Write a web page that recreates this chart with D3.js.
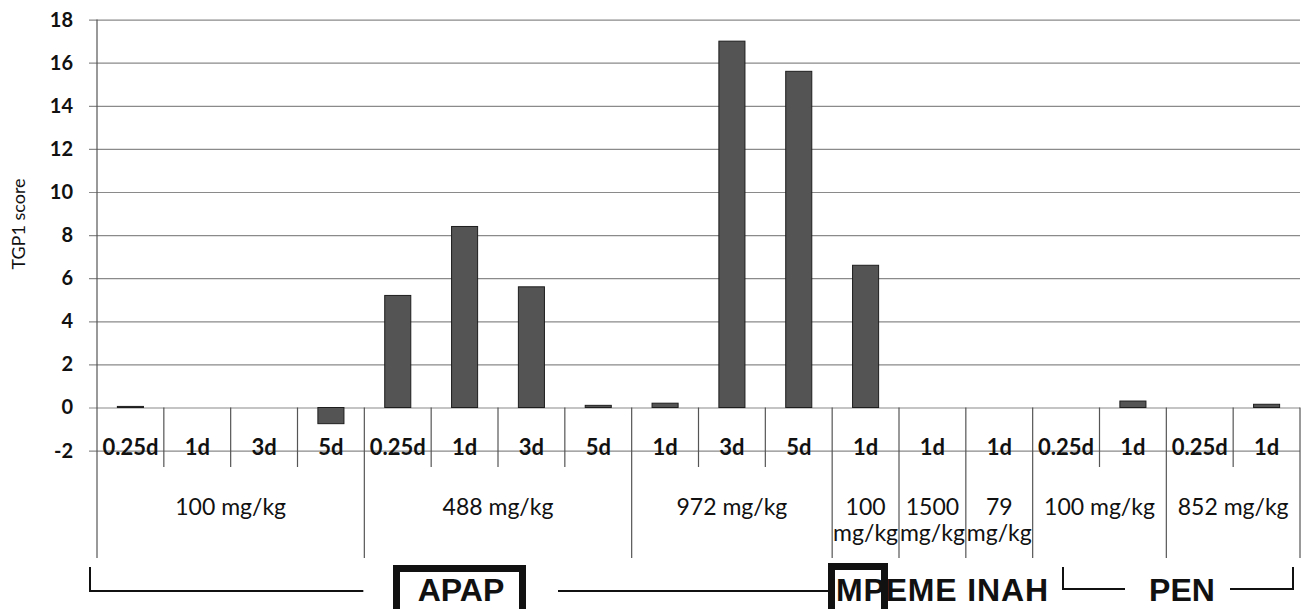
<!DOCTYPE html>
<html>
<head>
<meta charset="utf-8">
<script src="https://cdn.jsdelivr.net/npm/d3@7"></script>
<style>
  html, body { margin: 0; padding: 0; background: #fff; }
  svg { display: block; }
</style>
</head>
<body>
<svg id="chart" width="1306" height="609"></svg>
<script>
// Time point of each bar, left to right
const timepoints = ["0.25d","1d","3d","5d","0.25d","1d","3d","5d","1d","3d","5d","1d","1d","1d","0.25d","1d","0.25d","1d"];
// TGP1 score of each bar
const scores = [0.05, 0, 0, -0.75, 5.2, 8.4, 5.6, 0.1, 0.2, 17.0, 15.6, 6.6, 0, 0, 0, 0.3, 0, 0.15];
// Dose groups and how many time points each covers
const doses = ["100 mg/kg","488 mg/kg","972 mg/kg","100 mg/kg","1500 mg/kg","79 mg/kg","100 mg/kg","852 mg/kg"];
const doseSpans = [4, 4, 3, 1, 1, 1, 2, 2];
// Y axis ticks
const yTicks = [-2, 0, 2, 4, 6, 8, 10, 12, 14, 16, 18];

const svg = d3.select("#chart");

const left = 97, right = 1300;
const yTop = 19.6, yBottom = 450.6;
const tickRowBottom = 467, groupRowBottom = 558;

const x = d3.scaleBand().domain(d3.range(timepoints.length)).range([left, right]).padding(0);
const xBar = d3.scaleBand().domain(d3.range(timepoints.length)).range([left, right])
  .paddingInner(0.61).paddingOuter(0.305);
const y = d3.scaleLinear().domain([-2, 18]).range([yBottom, yTop]);

const labelFont = "Lato, 'Open Sans', sans-serif";

// Horizontal gridlines with tick labels
const yAxis = d3.axisLeft(y).tickValues(yTicks).tickSize(-(right - (left - 8))).tickPadding(16)
  .tickFormat(d => String(d));
const gy = svg.append("g").attr("transform", `translate(${left - 8},0)`).call(yAxis);
gy.select(".domain").remove();
gy.selectAll(".tick line").attr("stroke", "#8a8a8a").attr("stroke-width", 1.2);
gy.selectAll(".tick text")
  .attr("font-family", labelFont).attr("font-weight", 700).attr("font-size", 20).attr("fill", "#111");

// Y axis title
svg.append("text")
  .attr("transform", `translate(25,${224}) rotate(-90)`)
  .attr("text-anchor", "middle")
  .attr("font-family", labelFont).attr("font-size", 18).attr("fill", "#111")
  .text("TGP1 score");

// Bars (zero scores draw nothing)
svg.append("g").selectAll("rect").data(scores.map((v, i) => ({ v, i })).filter(d => d.v !== 0)).join("rect")
  .attr("x", d => xBar(d.i))
  .attr("width", xBar.bandwidth())
  .attr("y", d => y(Math.max(0, d.v)))
  .attr("height", d => Math.abs(y(d.v) - y(0)))
  .attr("fill", "#545454")
  .attr("stroke", "#1e1e1e")
  .attr("stroke-width", 1);

// Vertical axis line
svg.append("line").attr("x1", left).attr("x2", left).attr("y1", yTop).attr("y2", groupRowBottom)
  .attr("stroke", "#555").attr("stroke-width", 1.2);

// Category dividers
const gx = svg.append("g");
const groupEnds = [];
let acc = 0;
doseSpans.forEach(s => { acc += s; groupEnds.push(acc); });
d3.range(1, timepoints.length + 1).forEach(i => {
  const xp = i < timepoints.length ? x(i) : right;
  const isGroupEdge = groupEnds.includes(i);
  gx.append("line").attr("x1", xp).attr("x2", xp)
    .attr("y1", y(0)).attr("y2", isGroupEdge ? groupRowBottom : tickRowBottom)
    .attr("stroke", "#555").attr("stroke-width", 1.2);
});

// Time point labels
gx.selectAll("text.tp").data(timepoints).join("text")
  .attr("class", "tp")
  .attr("x", (d, i) => x(i) + x.bandwidth() / 2)
  .attr("y", 455)
  .attr("text-anchor", "middle")
  .attr("font-family", labelFont).attr("font-weight", 700).attr("font-size", 22).attr("fill", "#111")
  .text(d => d);

// Dose labels (single-column groups wrap onto two lines)
let start = 0;
doses.forEach((label, gi) => {
  const span = doseSpans[gi];
  const cx = (x(start) + (start + span < timepoints.length ? x(start + span) : right)) / 2;
  const t = gx.append("text")
    .attr("text-anchor", "middle")
    .attr("font-family", labelFont).attr("font-size", 23).attr("fill", "#111");
  if (span === 1) {
    const parts = label.split(" ");
    t.append("tspan").attr("x", cx).attr("y", 515).text(parts[0]);
    t.append("tspan").attr("x", cx).attr("y", 541).text(parts[1]);
  } else {
    t.attr("x", cx).attr("y", 515).text(label);
  }
  start += span;
});

// Compound brackets and labels
const ann = svg.append("g").attr("fill", "none").attr("stroke", "#111").attr("stroke-width", 2);
ann.append("path").attr("d", `M${left - 7},567 V591 H${x(4) - 1}`);
ann.append("path").attr("d", `M558,591 H${x(11) - 4}`);
ann.append("path").attr("d", `M1063,567 V589 H1125`);
ann.append("path").attr("d", `M1230,589 H1293 V567`);

const drugFont = "'Liberation Sans', Arial, sans-serif";
const drugSize = 32, drugBase = 601;
svg.append("rect").attr("x", 396.5).attr("y", 568.5).attr("width", 126).attr("height", 60)
  .attr("fill", "none").attr("stroke", "#111").attr("stroke-width", 7);
svg.append("text").attr("x", 461).attr("y", drugBase).attr("text-anchor", "middle")
  .attr("font-family", drugFont).attr("font-weight", 700).attr("font-size", drugSize).attr("fill", "#111")
  .text("APAP");
svg.append("text").attr("x", 836).attr("y", drugBase)
  .attr("font-family", drugFont).attr("font-weight", 700).attr("font-size", drugSize).attr("fill", "#111")
  .attr("textLength", 212).attr("lengthAdjust", "spacing")
  .text("MPEME INAH");
svg.append("rect").attr("x", 831.5).attr("y", 566.5).attr("width", 53).attr("height", 60)
  .attr("fill", "none").attr("stroke", "#111").attr("stroke-width", 7);
svg.append("text").attr("x", 1182).attr("y", drugBase).attr("text-anchor", "middle")
  .attr("font-family", drugFont).attr("font-weight", 700).attr("font-size", drugSize).attr("fill", "#111")
  .text("PEN");
</script>
</body>
</html>
